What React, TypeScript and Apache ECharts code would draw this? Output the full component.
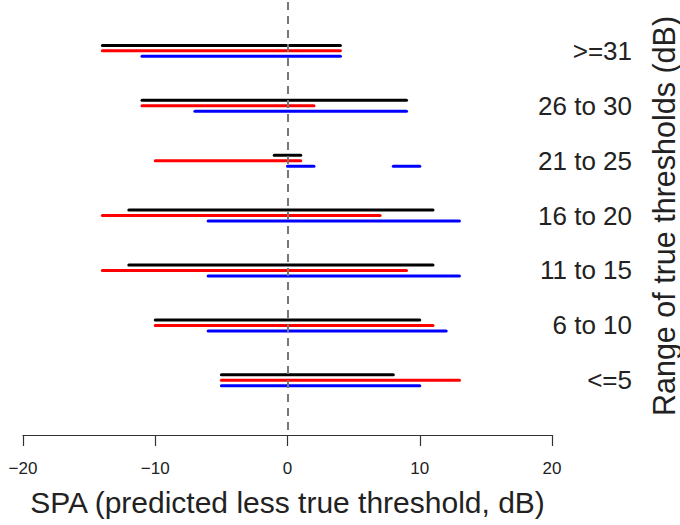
import React, { useEffect, useRef } from "react";
import * as echarts from "echarts";

const categories = ["<=5", "6 to 10", "11 to 15", "16 to 20", "21 to 25", "26 to 30", ">=31"];
// [categoryIndex, low, high]
const blackRanges = [
  [0, -5, 8], [1, -10, 10], [2, -12, 11], [3, -12, 11], [4, -1, 1], [5, -11, 9], [6, -14, 4],
];
const redRanges = [
  [0, -5, 13], [1, -10, 11], [2, -14, 9], [3, -14, 7], [4, -10, 1], [5, -11, 2], [6, -14, 4],
];
const blueRanges = [
  [0, -5, 10], [1, -6, 12], [2, -6, 13], [3, -6, 13], [4, 0, 2], [4, 8, 10], [5, -7, 9], [6, -11, 4],
];
const xTicks = [-20, -10, 0, 10, 20];

const FONT = "Liberation Sans, Arial, sans-serif";

function rangeSeries(name: string, data: number[][], color: string, offset: number, extra: any = {}) {
  return {
    type: "custom",
    name,
    data,
    encode: { x: [1, 2], y: 0 },
    renderItem: (params: any, api: any) => {
      const k = api.value(0) + offset;
      const a = api.coord([api.value(1), k]);
      const b = api.coord([api.value(2), k]);
      return {
        type: "line",
        shape: { x1: a[0], y1: a[1], x2: b[0], y2: b[1] },
        style: { stroke: color, lineWidth: 3, lineCap: "round" },
      };
    },
    ...extra,
  };
}

export default function App() {
  const ref = useRef<HTMLDivElement>(null);
  useEffect(() => {
    if (!ref.current) return;
    const chart = echarts.init(ref.current, null, { renderer: "svg" });
    chart.setOption({
      animation: false,
      backgroundColor: "#ffffff",
      grid: { left: 23, right: 128, top: 2, bottom: 95, containLabel: false, outerBoundsMode: "none" },
      xAxis: {
        type: "value",
        min: xTicks[0],
        max: xTicks[xTicks.length - 1],
        interval: 10,
        offset: 5,
        splitLine: { show: false },
        axisLine: { show: true, onZero: false, lineStyle: { color: "#333", width: 1.2 } },
        axisTick: { show: true, length: 11, lineStyle: { color: "#333", width: 1.2 } },
        axisLabel: {
          margin: 25,
          fontSize: 17,
          color: "#222",
          fontFamily: FONT,
          formatter: (v: number) => (v < 0 ? "\u2212" + Math.abs(v) : String(v)),
        },
        name: "SPA (predicted less true threshold, dB)",
        nameLocation: "middle",
        nameGap: 52,
        nameTextStyle: { fontSize: 30, color: "#222", fontFamily: FONT },
      },
      yAxis: {
        type: "value",
        position: "right",
        min: -0.905,
        max: 6.89,
        splitLine: { show: false },
        axisLine: { show: false },
        axisTick: { show: false },
        axisLabel: {
          customValues: categories.map((_, i) => i),
          formatter: (v: number) => categories[Math.round(v)] ?? "",
          align: "right",
          margin: 80,
          fontSize: 26,
          color: "#222",
          fontFamily: FONT,
        },
        name: "Range of true thresholds (dB)",
        nameLocation: "middle",
        nameRotate: 90,
        nameGap: 96,
        nameTextStyle: { fontSize: 30.5, color: "#222", fontFamily: FONT },
      },
      series: [
        rangeSeries("black", blackRanges, "#000000", 0.1, {
          markLine: {
            silent: true,
            symbol: "none",
            label: { show: false },
            lineStyle: { type: [8, 6], color: "#777", width: 2 },
            data: [{ xAxis: 0 }],
          },
        }),
        rangeSeries("red", redRanges, "#ff0000", 0),
        rangeSeries("blue", blueRanges, "#0000ff", -0.1),
      ],
    });
    return () => chart.dispose();
  }, []);
  return (
    <div
      ref={ref}
      style={{ position: "fixed", left: 0, top: 0, width: 680, height: 525, background: "#fff" }}
    />
  );
}
